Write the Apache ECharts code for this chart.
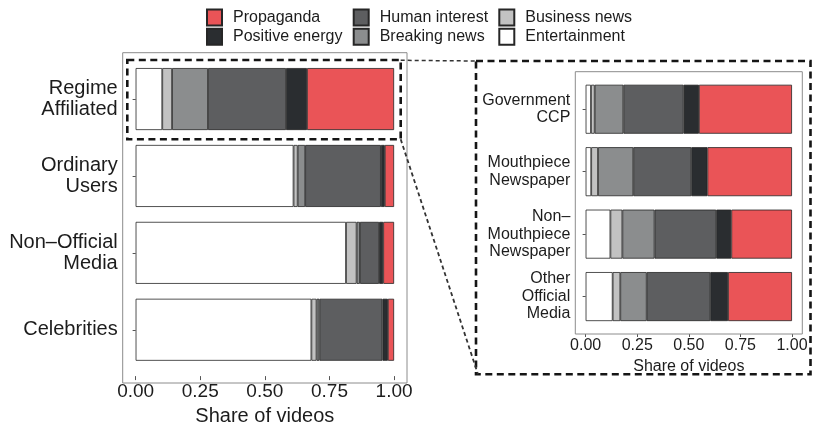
<!DOCTYPE html>
<html>
<head>
<meta charset="utf-8">
<script src="https://cdn.jsdelivr.net/npm/echarts@6/dist/echarts.min.js"></script>
<style>
  html, body { margin: 0; padding: 0; background: #fff; }
  #chart { width: 814px; height: 431px; }
</style>
</head>
<body>
<div id="chart"></div>
<script>
// categories, top to bottom
const mainCats = ['Regime\nAffiliated', 'Ordinary\nUsers', 'Non\u2013Official\nMedia', 'Celebrities']
const zoomCats = ['Government\nCCP', 'Mouthpiece\nNewspaper', 'Non\u2013\nMouthpiece\nNewspaper', 'Other\nOfficial\nMedia']
const topics = ['Entertainment', 'Business news', 'Breaking news', 'Human interest', 'Positive energy', 'Propaganda']
const shareTicks = [0, 0.25, 0.5, 0.75, 1]

// share of videos per account type (left panel)
const mainEntertainment = [0.103, 0.611, 0.814, 0.680]
const mainBusiness = [0.038, 0.016, 0.041, 0.020]
const mainBreaking = [0.139, 0.029, 0.013, 0.011]
const mainHuman = [0.302, 0.293, 0.074, 0.244]
const mainPositive = [0.081, 0.015, 0.016, 0.021]
const mainPropaganda = [0.337, 0.036, 0.042, 0.024]

// regime affiliated breakdown (right panel)
const zoomEntertainment = [0.026, 0.027, 0.120, 0.131]
const zoomBusiness = [0.018, 0.033, 0.058, 0.037]
const zoomBreaking = [0.139, 0.171, 0.156, 0.128]
const zoomHuman = [0.292, 0.281, 0.299, 0.308]
const zoomPositive = [0.074, 0.078, 0.073, 0.086]
const zoomPropaganda = [0.451, 0.410, 0.294, 0.310]

const colors = {
  'Entertainment': '#ffffff',
  'Business news': '#c2c2c2',
  'Breaking news': '#8b8d8e',
  'Human interest': '#5d5e60',
  'Positive energy': '#2a2d30',
  'Propaganda': '#ea5457'
}

const mainData = [mainEntertainment, mainBusiness, mainBreaking, mainHuman, mainPositive, mainPropaganda]
const zoomData = [zoomEntertainment, zoomBusiness, zoomBreaking, zoomHuman, zoomPositive, zoomPropaganda]

const font = 'Liberation Sans, Arial, sans-serif'
const txt = '#1c1c1c'

const makeSeries = (data, idx, stack, barWidth) => data.map((vals, i) => ({
  name: topics[i],
  type: 'bar',
  stack: stack,
  xAxisIndex: idx,
  yAxisIndex: idx,
  barWidth: barWidth,
  data: vals,
  itemStyle: { color: colors[topics[i]], borderColor: '#262626', borderWidth: 0.8 },
  emphasis: { disabled: true }
}))

const xAxisCfg = (idx, offset, fs, nameFs, margin, gap, tickLen) => ({
  gridIndex: idx,
  type: 'value',
  min: -0.05,
  max: 1.05,
  offset: offset,
  axisLine: { show: false },
  axisTick: { show: true, length: tickLen, customValues: shareTicks, lineStyle: { color: '#555' } },
  axisLabel: {
    customValues: shareTicks,
    formatter: v => v.toFixed(2),
    fontFamily: font, fontSize: fs, color: txt, margin: margin
  },
  splitLine: { show: false },
  name: 'Share of videos',
  nameLocation: 'middle',
  nameGap: gap,
  nameTextStyle: { fontFamily: font, fontSize: nameFs, color: txt }
})

const yAxisCfg = (idx, cats, fs, lh) => ({
  gridIndex: idx,
  type: 'category',
  inverse: true,
  data: cats,
  axisLine: { show: false },
  axisTick: { show: true, alignWithLabel: true, length: 3, lineStyle: { color: '#555' } },
  axisLabel: { fontFamily: font, fontSize: fs, lineHeight: lh, color: txt, margin: 5 }
})

const legendCfg = (left, names) => ({
  orient: 'vertical',
  left: left,
  top: 8.5,
  padding: 0,
  itemWidth: 15,
  itemHeight: 16,
  itemGap: 1.3,
  selectedMode: false,
  icon: 'rect',
  data: names,
  textStyle: { fontFamily: font, fontSize: 16, color: txt, padding: [0, 0, 0, 6] }
})

const chart = echarts.init(document.getElementById('chart'), null, { renderer: 'canvas' })

chart.setOption({
  animation: false,
  backgroundColor: '#fff',
  legend: [
    legendCfg(206, ['Propaganda', 'Positive energy']),
    legendCfg(352.7, ['Human interest', 'Breaking news']),
    legendCfg(498.3, ['Business news', 'Entertainment'])
  ],
  grid: [
    { left: 122.7, width: 284.3, top: 60.6, height: 314.5 },
    { left: 575.3, width: 227, top: 78, height: 249.8 }
  ],
  xAxis: [
    xAxisCfg(0, 7.9, 19, 20, 6, 25, 4),
    xAxisCfg(1, 6.2, 16, 16, 4, 17, 3)
  ],
  yAxis: [
    yAxisCfg(0, mainCats, 20, 21.5),
    yAxisCfg(1, zoomCats, 16, 17.5)
  ],
  series: [
    ...makeSeries(mainData, 0, 'main', 62),
    ...makeSeries(zoomData, 1, 'zoom', 49)
  ],
  graphic: [
    // panel frames
    { type: 'rect', shape: { x: 122.7, y: 52.7, width: 284.3, height: 330.3 },
      style: { fill: 'none', stroke: '#8c8c8c', lineWidth: 1 }, z: 10 },
    { type: 'rect', shape: { x: 575.3, y: 71.7, width: 227, height: 262.3 },
      style: { fill: 'none', stroke: '#8c8c8c', lineWidth: 1 }, z: 10 },
    // highlight box around regime affiliated
    { type: 'rect', shape: { x: 127.3, y: 60, width: 273.4, height: 79.3 },
      style: { fill: 'none', stroke: '#151515', lineWidth: 2.6, lineDash: [7, 4.5] }, z: 20 },
    // zoom box
    { type: 'rect', shape: { x: 476, y: 61, width: 334.5, height: 313.3 },
      style: { fill: 'none', stroke: '#151515', lineWidth: 2.6, lineDash: [7, 4.5] }, z: 20 },
    // connectors
    { type: 'line', shape: { x1: 400.7, y1: 60.3, x2: 476, y2: 61 },
      style: { stroke: '#333', lineWidth: 1.5, lineDash: [4, 3] }, z: 20 },
    { type: 'line', shape: { x1: 400.7, y1: 139.3, x2: 478, y2: 374.3 },
      style: { stroke: '#333', lineWidth: 1.8, lineDash: [4, 3] }, z: 20 }
  ]
})
</script>
</body>
</html>
